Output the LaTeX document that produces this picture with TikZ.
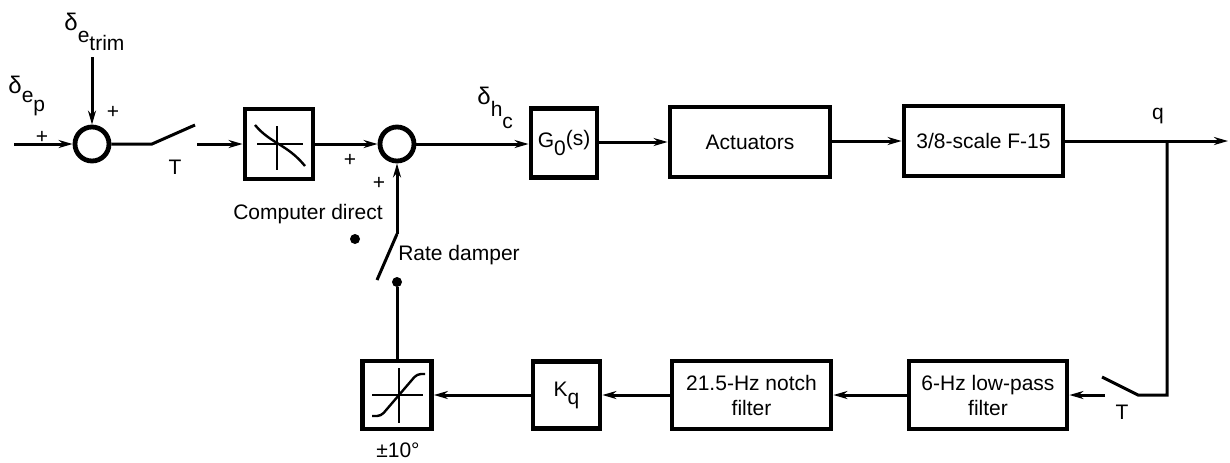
\documentclass[tikz,border=0pt]{standalone}
\usepackage{fontspec}
\setmainfont{Liberation Sans}
\usetikzlibrary{arrows.meta}
\begin{document}
\begin{tikzpicture}[x=0.5pt,y=-0.5pt,
  font=\fontsize{10.5}{12.5}\selectfont,
  blk/.style={draw,line width=2.4pt,inner sep=1pt,align=center},
  sum/.style={circle,draw,line width=2.4pt,minimum size=17pt,inner sep=0pt},
  con/.style={line width=1.5pt},
  arr/.style={con,-{Stealth[length=7pt,width=4pt]}},
  lbl/.style={inner sep=0pt},
  dot/.style={circle,fill,minimum size=5pt,inner sep=0pt},
  curve/.style={line width=1.2pt},
  bigd/.style={font=\fontsize{12}{12}\selectfont}
]
\useasboundingbox (0,0) rectangle (1230,462);
% top row
\node[sum] (s1) at (92,144) {};
\node[blk,minimum width=34pt,minimum height=35pt] (nl) at (279,144) {};
\node[sum] (s2) at (397,144) {};
\node[blk,minimum width=33pt,minimum height=34.5pt] (g0) at (564,143) {G\raisebox{-4pt}{0}\raisebox{1pt}{(s)}};
\node[blk,minimum width=80pt,minimum height=35pt] (act) at (750,142) {Actuators};
\node[blk,minimum width=79.5pt,minimum height=35pt] (f15) at (983.5,141) {3/8-scale F-15};
% bottom row
\node[blk,minimum width=79pt,minimum height=34pt] (lp) at (988,395) {6-Hz low-pass\\filter};
\node[blk,minimum width=79.5pt,minimum height=34pt] (notch) at (751.5,395) {21.5-Hz notch\\filter};
\node[blk,minimum width=33.5pt,minimum height=33.5pt] (kq) at (566.5,395) {K\raisebox{-4pt}{q}};
\node[blk,minimum width=34.5pt,minimum height=34pt] (lim) at (397,395) {};
% inner graphs
\begin{scope}[shift={(nl.center)}]
  \draw[line width=0.9pt] (-22,0) -- (24,0) (-2,-18) -- (-2,26);
  \draw[curve] (-24,-19) .. controls (-8,0) and (8,0) .. (26,22);
\end{scope}
\begin{scope}[shift={(lim.center)}]
  \draw[line width=0.9pt] (-25,0) -- (26,0) (2,-27) -- (2,28);
  \draw[curve,rounded corners=2pt] (-25,21) -- (-16,21) -- (20,-21) -- (28,-21);
\end{scope}
% coordinates
\coordinate (in) at (14,144);
\coordinate (trim) at (92,57);
\coordinate (sw1a) at (152,144);
\coordinate (sw1b) at (195,125);
\coordinate (sw1c) at (197,144);
\coordinate (br) at (1167,141);
\coordinate (out) at (1228,141);
\coordinate (c1) at (1167,395);
\coordinate (sw2a) at (1138,395);
\coordinate (sw2b) at (1102,377);
\coordinate (sw2c) at (1105,395);
\coordinate (bl1) at (377,280);
\coordinate (bl2) at (397,234);
\node[dot] (rd) at (397,282) {};
\node[dot] (cd) at (355,239) {};
% connectors
\draw[arr] (in) -- (s1);
\draw[arr] (trim) -- (s1);
\draw[con] (s1) -- (sw1a) -- (sw1b);
\draw[arr] (sw1c) -- (nl);
\draw[arr] (nl) -- (s2);
\draw[arr] (s2.east) -- (g0.west |- s2.east);
\draw[arr] (g0.east |- act.west) -- (act.west);
\draw[arr] (act.east |- f15.west) -- (f15.west);
\draw[arr] (f15) -- (out);
\draw[con] (br) -- (c1) -- (sw2a) -- (sw2b);
\draw[arr] (sw2c) -- (lp);
\draw[arr] (lp) -- (notch);
\draw[arr] (notch) -- (kq);
\draw[arr] (kq) -- (lim);
\draw[con] (lim) -- (rd);
\draw[con] (bl1) -- (bl2);
\draw[arr] (bl2) -- (s2);
% labels
\node[lbl,anchor=base west,bigd] (ltrim) at (64,30) {δ\raisebox{-6pt}{\fontsize{10.5}{12}\selectfont e\raisebox{-4pt}{trim}}};
\node[lbl,anchor=base west,bigd] (lep) at (8,93) {δ\raisebox{-4.5pt}{\fontsize{10.5}{12}\selectfont e\raisebox{-4.5pt}{p}}};
\node[lbl,anchor=base west,bigd] (lhc) at (477,104) {δ\raisebox{-6pt}{\fontsize{10.5}{12}\selectfont h\raisebox{-6pt}{c}}};
\node[lbl] (p1) at (42,137) {+};
\node[lbl] (p2) at (113,112) {+};
\node[lbl] (p3) at (350,160) {+};
\node[lbl] (p4) at (379,183) {+};
\node[lbl] (t1) at (175,167) {T};
\node[lbl] (t2) at (1122,412) {T};
\node[lbl] (lq) at (1158,116) {q};
\node[lbl] (lcd) at (308,214) {Computer direct};
\node[lbl] (lrd) at (459,255) {Rate damper};
\node[lbl] (l10) at (398,450) {±10°};
\end{tikzpicture}
\end{document}
